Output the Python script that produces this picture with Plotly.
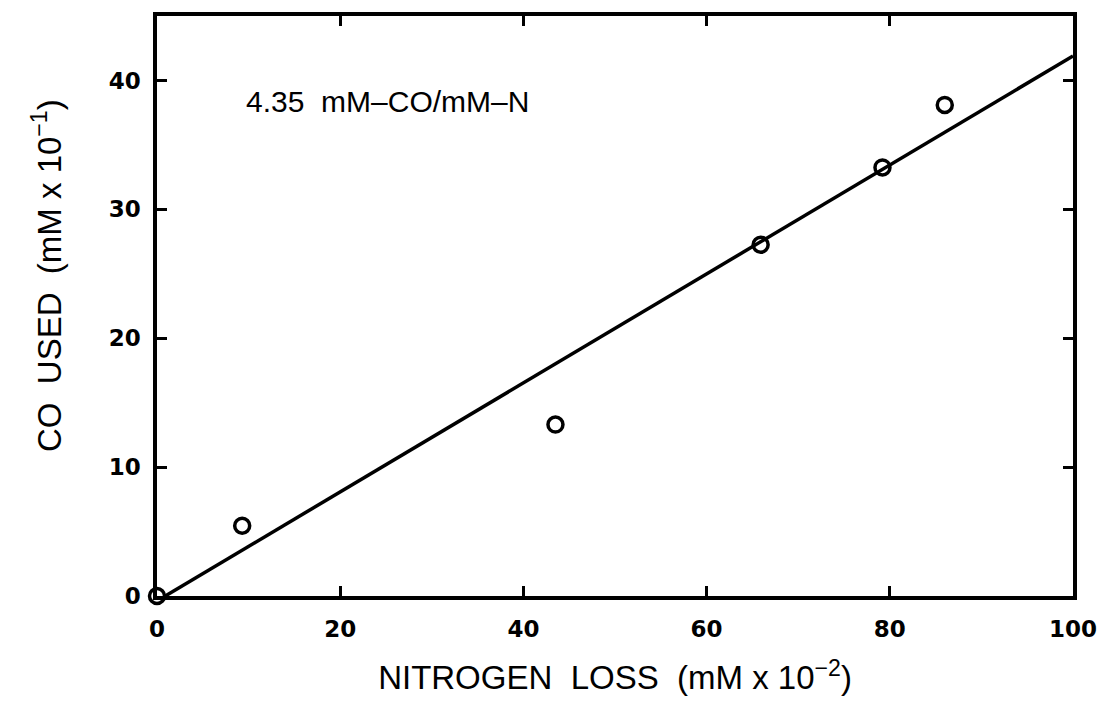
import plotly.graph_objects as go

nitrogen_loss = [0, 9.3, 43.5, 65.9, 79.2, 86.0]
co_used = [0, 5.45, 13.3, 27.25, 33.25, 38.1]
fit_x = [0.9, 100]
fit_y = [0, 41.9]
x_ticks = [0, 20, 40, 60, 80, 100]
y_ticks = [0, 10, 20, 30, 40]
annotation_text = "4.35\u00a0\u00a0mM\u2013CO/mM\u2013N"

fig = go.Figure()
fig.add_trace(go.Scatter(x=fit_x, y=fit_y, mode="lines",
                         line=dict(color="black", width=3.5), showlegend=False))
fig.add_trace(go.Scatter(x=nitrogen_loss, y=co_used, mode="markers",
                         marker=dict(symbol="circle-open", size=15, color="black",
                                     line=dict(color="black", width=3.5)),
                         cliponaxis=False, showlegend=False))

tickfont = dict(family="DejaVu Sans", size=23, color="black", weight="bold")
titlefont = dict(family="Liberation Sans", size=33, color="black")

fig.update_layout(
    width=1109, height=717,
    margin=dict(l=157, r=28, t=16, b=121),
    paper_bgcolor="white", plot_bgcolor="white",
    xaxis=dict(range=[0, 100], tickvals=x_ticks, ticks="inside", ticklen=10, tickwidth=3,
               tickcolor="black", showline=True, linecolor="black", linewidth=3.5,
               mirror="ticks", showgrid=False, zeroline=False, tickfont=tickfont,
               ticklabelstandoff=10,
               title=dict(text="NITROGEN\u00a0\u00a0LOSS\u00a0\u00a0(mM x 10<sup>\u22122</sup>)",
                          font=titlefont, standoff=26)),
    yaxis=dict(range=[0, 45], tickvals=y_ticks, ticks="inside", ticklen=10, tickwidth=3,
               tickcolor="black", showline=True, linecolor="black", linewidth=3.5,
               mirror="ticks", showgrid=False, zeroline=False, tickfont=tickfont,
               ticklabelstandoff=8),
    annotations=[
        dict(text="CO\u00a0\u00a0USED\u00a0\u00a0(mM x 10<sup>\u22121</sup>)", xref="paper", yref="paper",
             x=0, y=0.5, xanchor="center", yanchor="middle", xshift=-110, yshift=30,
             textangle=-90, showarrow=False, font=titlefont),
        dict(text=annotation_text, xref="x", yref="y", x=9.5, y=38.4,
             xanchor="left", yanchor="middle", showarrow=False,
             font=dict(family="Liberation Sans", size=30, color="black")),
    ],
)

fig.write_html("out.html")
